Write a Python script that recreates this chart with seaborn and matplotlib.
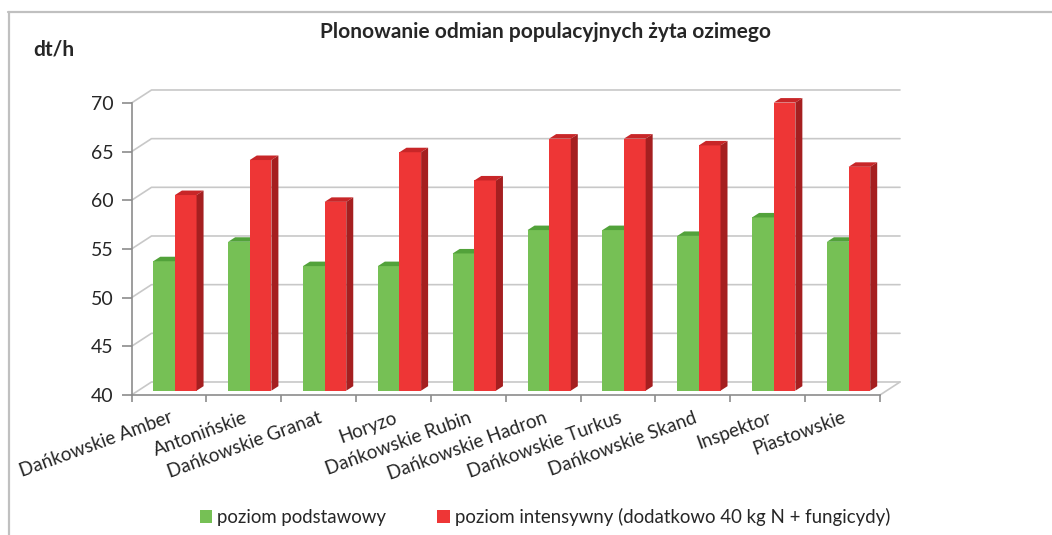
import matplotlib
matplotlib.use("Agg")
import matplotlib.pyplot as plt
import matplotlib.transforms as mtransforms
from matplotlib.patches import Polygon, Patch
from matplotlib.lines import Line2D
import seaborn as sns
import pandas as pd

# dane
odmiany = ["Dańkowskie Amber", "Antonińskie", "Dańkowskie Granat", "Horyzo",
           "Dańkowskie Rubin", "Dańkowskie Hadron", "Dańkowskie Turkus",
           "Dańkowskie Skand", "Inspektor", "Piastowskie"]
podstawowy = [53.3, 55.3, 52.8, 52.8, 54.1, 56.5, 56.5, 55.9, 57.8, 55.3]
intensywny = [60.1, 63.7, 59.4, 64.5, 61.6, 65.9, 65.9, 65.2, 69.6, 63.0]
poziomy = ["poziom podstawowy", "poziom intensywny (dodatkowo 40 kg N + fungicydy)"]
y_ticks = [40, 45, 50, 55, 60, 65, 70]
BASE = 40

front = {"green": "#76c055", "red": "#ee3636"}
top = {"green": "#52a23a", "red": "#c82628"}
side = {"green": "#4a8f33", "red": "#a51f20"}
grid_c = "#c8c8c8"
axis_c = "#8c8c8c"

df = pd.DataFrame({
    "odmiana": odmiany * 2,
    "poziom": [poziomy[0]] * len(odmiany) + [poziomy[1]] * len(odmiany),
    "plon": podstawowy + intensywny,
})

sns.set_style("white")
plt.rcParams["font.family"] = ["Lato", "DejaVu Sans"]

W, H = 10.52, 5.35
fig = plt.figure(figsize=(W, H), dpi=100)
ax_pos = [0.125, 0.2617, 0.7115, 0.5458]
ax = fig.add_axes(ax_pos)

sns.barplot(data=df, x="odmiana", y="plon", hue="poziom", hue_order=poziomy,
            palette=[front["green"], front["red"]], width=0.578, saturation=1,
            legend=False, ax=ax, errorbar=None, linewidth=0)

n = len(odmiany)
ax.set_xlim(-0.5, n - 0.5)
ax.set_ylim(BASE, 70)

# piksele -> jednostki danych
px_x = ax_pos[2] * W * 100 / n
px_y = ax_pos[3] * H * 100 / (70 - BASE)
wall_dx, wall_dy = 20 / px_x, 13 / px_y
cap_dx, cap_dy = 7 / px_x, 4.5 / px_y

# tylna sciana - linie siatki
for v in y_ticks:
    ax.plot([-0.5, -0.5 + wall_dx, n - 0.5 + wall_dx], [v, v + wall_dy, v + wall_dy],
            color=grid_c, lw=1.2, clip_on=False, zorder=0)
ax.plot([n - 0.5, n - 0.5 + wall_dx], [BASE, BASE + wall_dy],
        color=grid_c, lw=1.2, clip_on=False, zorder=0)

# slupki 3D
shift = ax.transData + mtransforms.ScaledTranslation(0.06, 0.043, fig.dpi_scale_trans)
for k, key in enumerate(["green", "red"]):
    for p in ax.containers[k]:
        h = p.get_height()
        p.set_y(BASE)
        p.set_height(h - BASE)
        p.set_transform(shift)
        p.set_clip_on(False)
        p.set_linewidth(0)
        p.set_edgecolor("none")
        p.set_zorder(2 + 2 * k)
        x0 = p.get_x()
        x1 = x0 + p.get_width()
        cap = Polygon([(x0, h), (x1, h), (x1 + cap_dx, h + cap_dy), (x0 + cap_dx, h + cap_dy)],
                      closed=True, facecolor=top[key], edgecolor="none",
                      transform=shift, clip_on=False, zorder=2.5 + 2 * k)
        ax.add_patch(cap)
        if key == "red":
            sd = Polygon([(x1, BASE), (x1 + cap_dx, BASE + cap_dy), (x1 + cap_dx, h + cap_dy), (x1, h)],
                         closed=True, facecolor=side[key], edgecolor="none",
                         transform=shift, clip_on=False, zorder=2.5 + 2 * k)
            ax.add_patch(sd)

# osie
sns.despine(ax=ax, top=True, right=True)
for s in ["left", "bottom"]:
    ax.spines[s].set_color(axis_c)
    ax.spines[s].set_linewidth(1.2)
ax.set_yticks(y_ticks)
ax.tick_params(axis="y", direction="out", length=7, width=1.2, color=axis_c,
               labelsize=14, pad=6, left=True)
ax.set_xticks([i - 0.5 for i in range(n + 1)])
ax.set_xticklabels([])
ax.tick_params(axis="x", which="major", direction="out", length=5, width=1.2,
               color=axis_c, bottom=True)
ax.set_xticks(range(n), minor=True)
ax.set_xticklabels(odmiany, minor=True, rotation=20, ha="right",
                   rotation_mode="anchor", fontsize=13.5)
ax.tick_params(axis="x", which="minor", length=0, pad=10)
ax.set_xlabel("")
ax.set_ylabel("")
ax.grid(False)

fig.text(545 / 1052, 1 - 32 / 535, "Plonowanie odmian populacyjnych żyta ozimego",
         ha="center", va="center", fontsize=15, fontweight="bold")
fig.text(33 / 1052, 1 - 50 / 535, "dt/h", ha="left", va="center",
         fontsize=15, fontweight="bold")

handles = [Patch(facecolor=front["green"], edgecolor="none"),
           Patch(facecolor=front["red"], edgecolor="none")]
fig.legend(handles, poziomy, loc="center", bbox_to_anchor=(545 / 1052, 1 - 517 / 535),
           ncol=2, frameon=False, fontsize=13.4, handlelength=0.65, handleheight=0.65,
           handletextpad=0.3, columnspacing=2.75)

# ramka wykresu
fig.add_artist(Line2D([8.5 / 1052, 8.5 / 1052], [0, 1 - 12 / 535], color="#c0c0c0",
                      lw=1.6, transform=fig.transFigure))
fig.add_artist(Line2D([8 / 1052, 1], [1 - 12 / 535, 1 - 12 / 535], color="#c0c0c0",
                      lw=1.6, transform=fig.transFigure))

fig.savefig("out.png", dpi=100)
